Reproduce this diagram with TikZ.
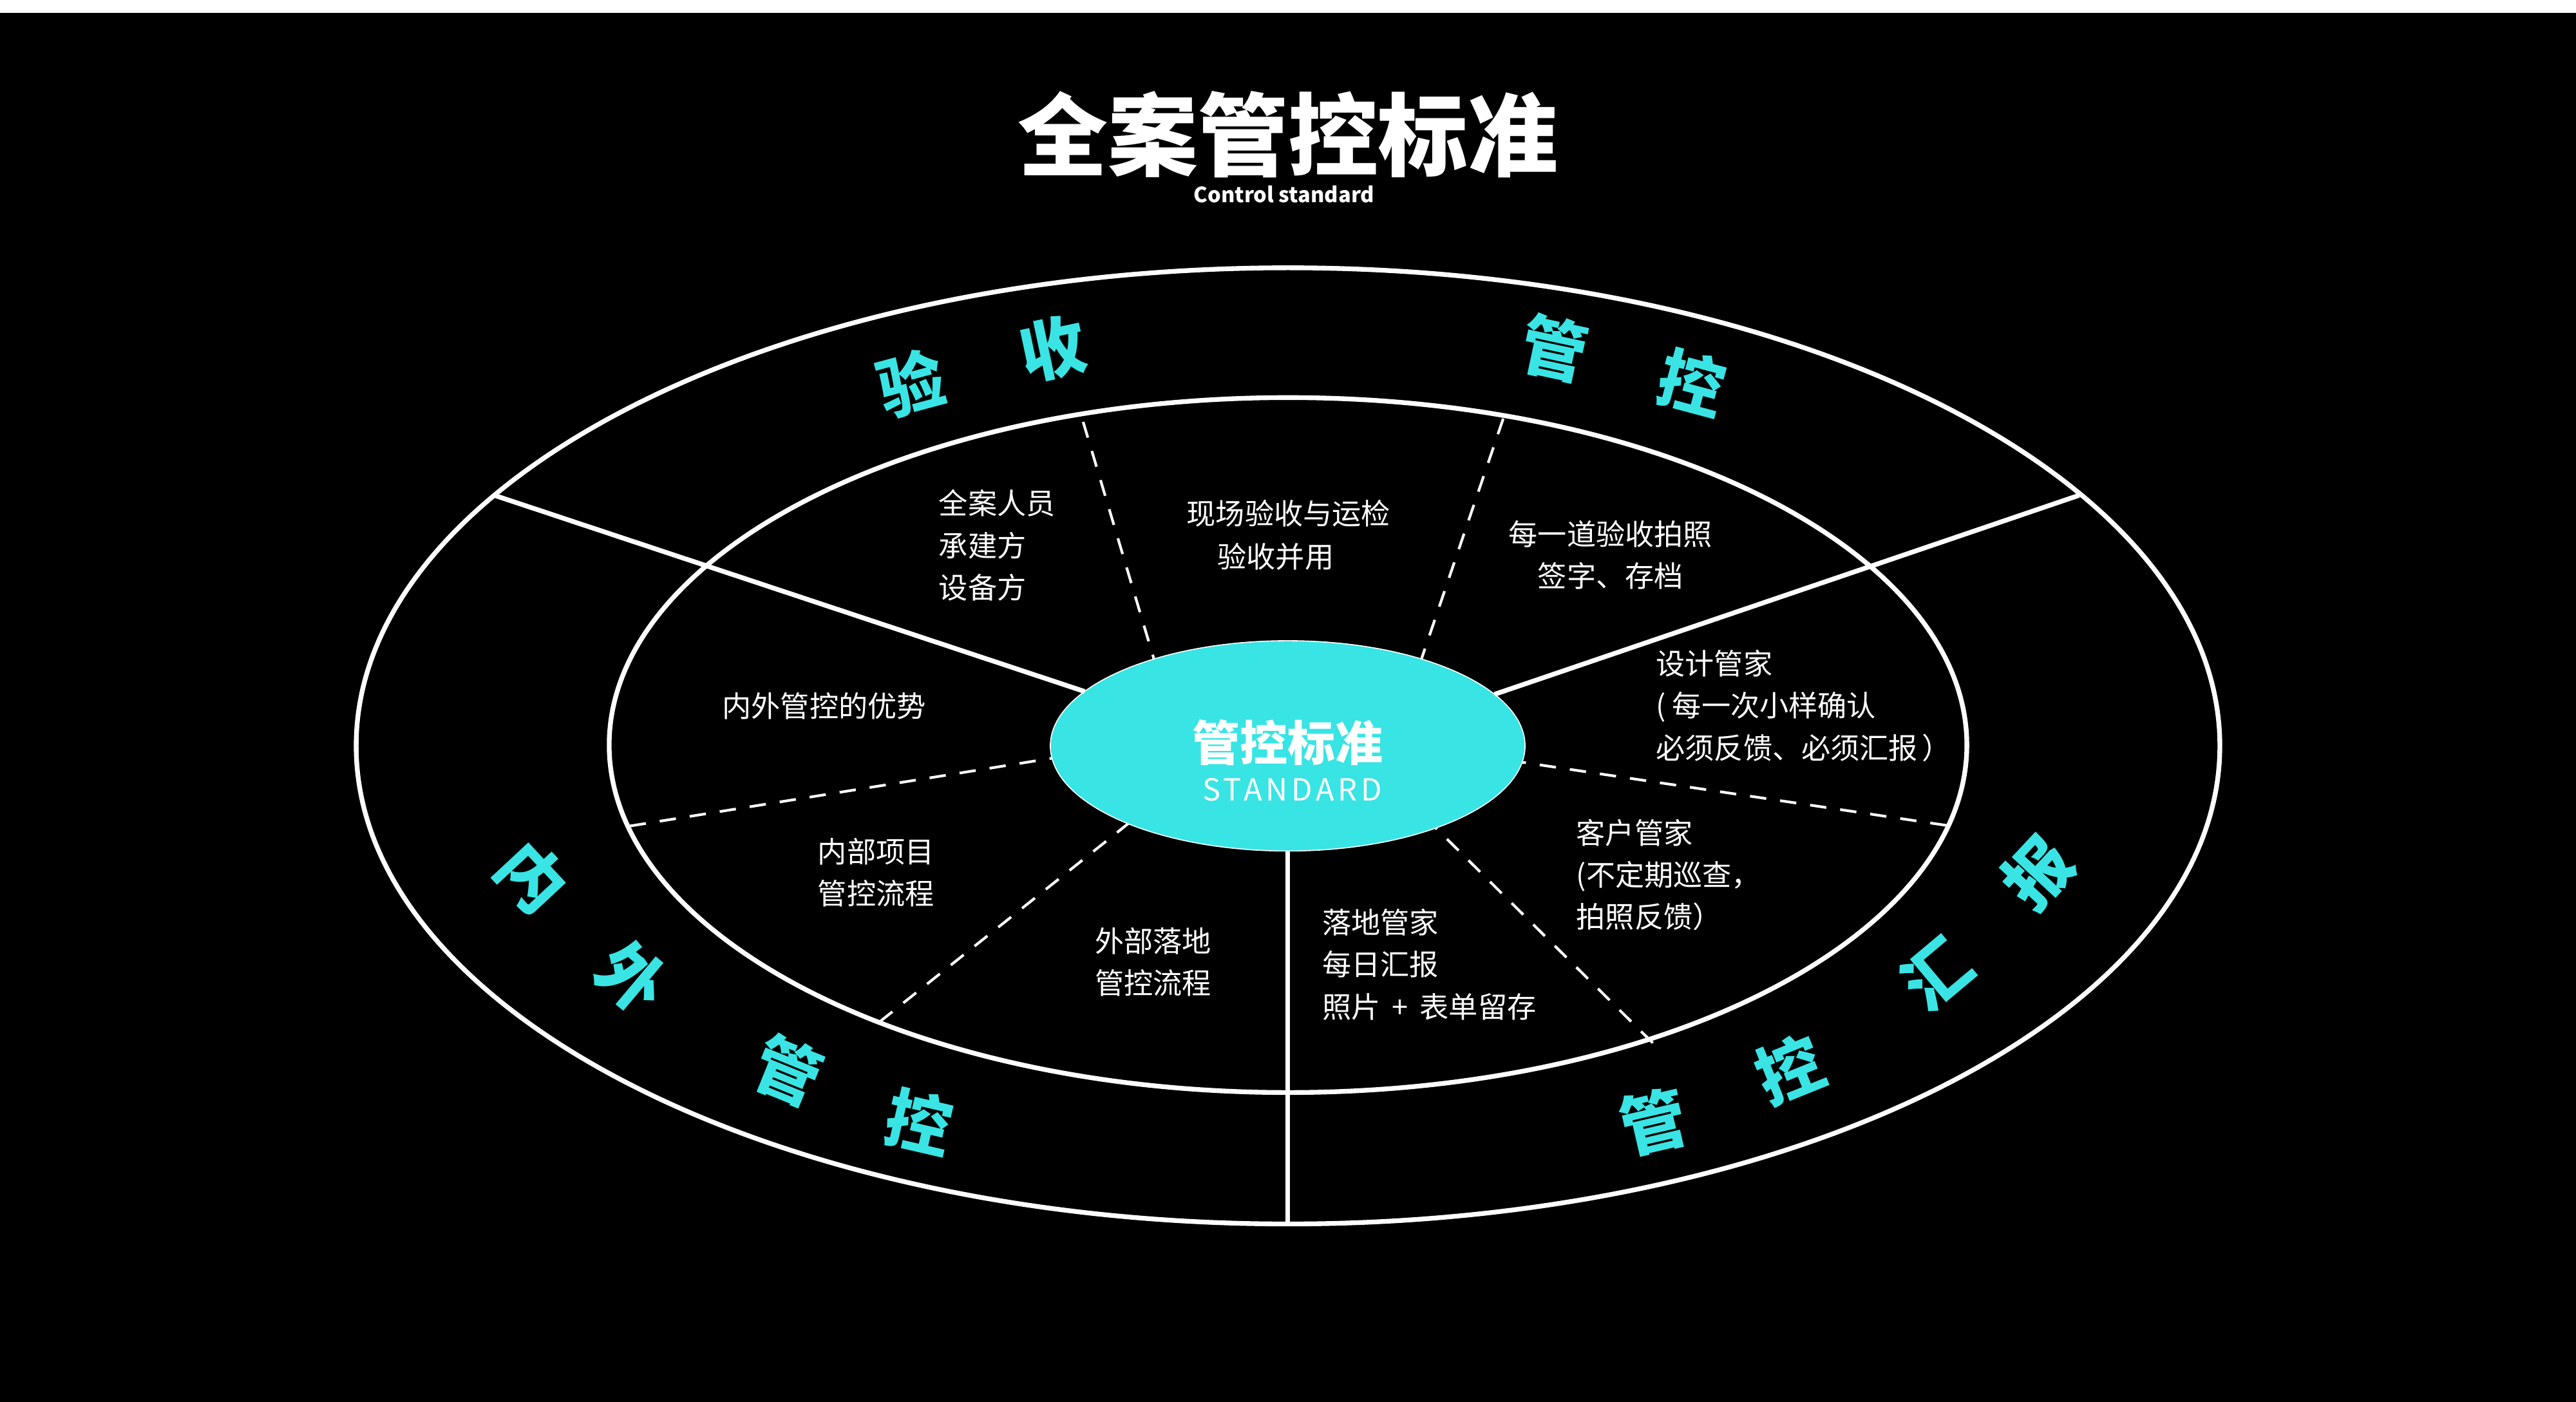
\documentclass[tikz,border=0pt]{standalone}
\usepackage{fontspec}
\setmainfont{Noto Sans CJK SC}
\usetikzlibrary{shapes.geometric}
\definecolor{cyanfill}{HTML}{38E4E4}
\definecolor{cyantext}{HTML}{3AE4E4}
\begin{document}
\begin{tikzpicture}[x=0.05cm,y=-0.05cm,
  bodytext/.style={text=white, inner sep=0pt, outer sep=0pt, font=\fontsize{25.2pt}{36.5pt}\selectfont},
  ringch/.style={text=cyantext, inner sep=0pt, font=\fontsize{57pt}{57pt}\selectfont\bfseries},
  titletext/.style={text=white, inner sep=0pt, font=\fontsize{78pt}{78pt}\selectfont\bfseries},
  subtext/.style={text=white, inner sep=0pt, font=\fontsize{18.2pt}{18.2pt}\selectfont\bfseries},
  coretitle/.style={text=white, inner sep=0pt, font=\fontsize{41.3pt}{41.3pt}\selectfont\bfseries},
  corestd/.style={text=white, inner sep=0pt, font=\fontsize{26.3pt}{26.3pt}\selectfont\addfontfeatures{LetterSpace=12}},
  solidline/.style={draw=white, line width=4.1pt},
  dashline/.style={draw=white, line width=2.3pt, dash pattern=on 14.2pt off 12.1pt},
]
% background
\fill[black] (0,0) rectangle (1568,853.38);
\fill[white] (0,0) rectangle (1568,7.8);
\useasboundingbox (0,0) rectangle (1568,853.38);

% title
\node[titletext] (title) at (784,82) {全案管控标准};
\node[subtext] (sub) at (781.6,118.3) {Control standard};

% rings
\draw[solidline] (784,454) ellipse [x radius=567.2, y radius=291];
\draw[solidline] (784,453.5) ellipse [x radius=413.2, y radius=211.5];

% centre
\node[ellipse, fill=cyanfill, draw=white, line width=0.9pt, minimum width=411.1pt, minimum height=182.1pt, inner sep=0pt, outer sep=0pt] (core) at (783.8,454) {};
\node[coretitle] (coret) at (783.7,452.1) {管控标准};
\node[corestd] (cores) at (786.5,480.5) {STANDARD};

% solid dividers
\coordinate (o1) at (301.5,301.7);
\coordinate (o2) at (1265.5,301.5);
\coordinate (o3) at (783.8,745);
\draw[solidline] (o1) -- (core.165.4);
\draw[solidline] (o2) -- (core.14.6);
\draw[solidline] (o3) -- (core.270);

% dashed dividers
\coordinate (i1) at (659.3,256.8);
\coordinate (i2) at (915,254.8);
\coordinate (i3) at (383.3,502.8);
\coordinate (i4) at (1184.8,502.4);
\coordinate (i5) at (535.4,622);
\coordinate (i6) at (1006,634.8);
\draw[dashline] (i1) -- (core.147.8);
\draw[dashline] (i2) -- (core.33.1);
\draw[dashline] (i3) -- (core.183.4);
\draw[dashline] (i4) -- (core.356.6);
\draw[dashline] (i5) -- (core.206.4);
\draw[dashline] (i6) -- (core.331.2);

% ring labels
\node[ringch, rotate=15]  (r1)  at (554.3,233.2) {验};
\node[ringch, rotate=12]  (r2)  at (640.6,212)   {收};
\node[ringch, rotate=-12] (r3)  at (946,212)     {管};
\node[ringch, rotate=-15] (r4)  at (1030,233)    {控};
\node[ringch, rotate=-47] (r5)  at (324,533.8)   {内};
\node[ringch, rotate=-40] (r6)  at (384.8,594.8) {外};
\node[ringch, rotate=-22] (r7)  at (479.6,651.6) {管};
\node[ringch, rotate=-13] (r8)  at (559.5,682.8) {控};
\node[ringch, rotate=13]  (r9)  at (1006.5,682.8) {管};
\node[ringch, rotate=22]  (r10) at (1089.3,650.8) {控};
\node[ringch, rotate=40]  (r11) at (1178.9,592.8) {汇};
\node[ringch, rotate=47]  (r12) at (1240.3,531.2) {报};

% sector texts
\node[bodytext, anchor=west, align=left] (tA) at (571.5,332) {全案人员\\承建方\\设备方};
\node[bodytext] (tB1) at (784.3,312.6) {现场验收与运检};
\node[bodytext] (tB2) at (776.5,338.7) {验收并用};
\node[bodytext, align=center] (tC) at (980.3,337.7) {每一道验收拍照\\签字、存档};
\node[bodytext, anchor=west] (tD) at (439.6,429.7) {内外管控的优势};
\node[bodytext, anchor=west, align=left] (tE) at (1008,429.6) {设计管家\\( 每一次小样确认\\必须反馈、必须汇报\hspace{0.15em}）};
\node[bodytext, anchor=west, align=left] (tF) at (959.5,532.5) {客户管家\\(不定期巡查，\\拍照反馈）};
\node[bodytext, anchor=west, align=left] (tG) at (497.8,531) {内部项目\\管控流程};
\node[bodytext, anchor=west, align=left] (tH) at (666.5,585.6) {外部落地\\管控流程};
\node[bodytext, anchor=west, align=left] (tI) at (804.8,587) {落地管家\\每日汇报\\照片\hspace{0.4em}+\hspace{0.4em}表单留存};
\end{tikzpicture}
\end{document}
